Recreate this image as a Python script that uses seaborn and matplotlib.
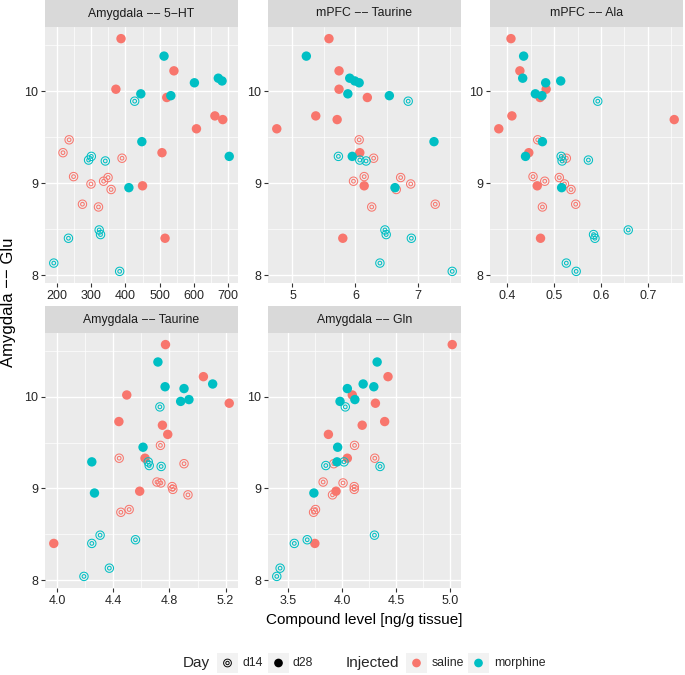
import numpy as np
import pandas as pd
import matplotlib
matplotlib.use("Agg")
import matplotlib.pyplot as plt
import seaborn as sns
from matplotlib.path import Path
from matplotlib.markers import MarkerStyle
from matplotlib.ticker import MultipleLocator
from matplotlib.patches import Rectangle

# ---------------- data (one row per animal) ----------------
injected = ["saline"] * 10 + ["morphine"] * 9 + ["saline"] * 10 + ["morphine"] * 9
day = ["d28"] * 19 + ["d14"] * 19

glu = [10.57, 10.22, 10.02, 9.93, 9.73, 9.69, 9.59, 9.33, 8.97, 8.40,
       10.38, 10.14, 10.11, 10.09, 9.97, 9.95, 9.45, 9.29, 8.95,
       9.47, 9.33, 9.27, 9.07, 9.06, 9.02, 8.99, 8.93, 8.77, 8.74,
       9.89, 9.29, 9.25, 9.24, 8.49, 8.44, 8.40, 8.13, 8.04]

amy_5ht = [387, 542, 372, 521, 662, 685, 608, 507, 450, 516,
           513, 672, 683, 602, 445, 533, 448, 704, 410,
           235, 217, 390, 248, 349, 336, 299, 358, 274, 321,
           427, 300, 292, 341, 323, 327, 233, 190, 383]

mpfc_taurine = [5.58, 5.74, 5.74, 6.19, 5.37, 5.71, 4.75, 6.07, 6.14, 5.80,
                5.22, 5.91, 5.99, 6.06, 5.88, 6.54, 7.25, 5.95, 6.63,
                6.06, np.nan, 6.29, 6.14, 6.72, 5.97, 6.88, 6.65, 7.27, 6.26,
                6.84, 5.73, 6.07, 6.17, 6.47, 6.49, 6.89, 6.39, 7.54]

mpfc_ala = [0.408, 0.427, 0.483, 0.470, 0.410, 0.756, 0.382, 0.446, 0.464, 0.471,
            0.435, 0.433, 0.514, 0.482, 0.460, 0.474, 0.475, 0.439, 0.516,
            0.465, np.nan, 0.526, 0.455, 0.511, 0.480, 0.522, 0.536, 0.546, 0.475,
            0.593, 0.515, 0.573, 0.517, 0.658, 0.584, 0.587, 0.526, 0.547]

amy_taurine = [4.772, 5.042, 4.496, 5.226, 4.440, 4.750, 4.788, 4.626, 4.588, 3.976,
               4.718, 5.108, 4.769, 4.904, 4.939, 4.880, 4.612, 4.247, 4.266,
               4.736, 4.442, 4.904, 4.711, 4.739, 4.819, 4.824, 4.932, 4.513, 4.454,
               4.732, 4.649, 4.656, 4.741, 4.306, 4.558, 4.247, 4.372, 4.191]

amy_gln = [5.023, 4.426, 4.094, 4.309, 4.395, 4.186, 3.872, 4.048, 3.943, 3.746,
           4.325, 4.195, 4.294, 4.048, 4.118, 3.980, 3.958, 3.952, 3.737,
           4.115, 4.303, 3.922, 3.823, 4.008, 4.112, 4.112, 3.910, 3.752, 3.734,
           4.029, 4.017, 3.848, 4.352, 4.300, 3.675, 3.555, 3.423, 3.392]

panel_titles = ["Amygdala \u2212\u2212 5\u2212HT", "mPFC \u2212\u2212 Taurine",
                "mPFC \u2212\u2212 Ala", "Amygdala \u2212\u2212 Taurine",
                "Amygdala \u2212\u2212 Gln"]
panel_values = [amy_5ht, mpfc_taurine, mpfc_ala, amy_taurine, amy_gln]

x_ticks = [[200, 300, 400, 500, 600, 700], [5, 6, 7], [0.4, 0.5, 0.6, 0.7],
           [4.0, 4.4, 4.8, 5.2], [3.5, 4.0, 4.5, 5.0]]
x_tick_labels = [["200", "300", "400", "500", "600", "700"], ["5", "6", "7"],
                 ["0.4", "0.5", "0.6", "0.7"], ["4.0", "4.4", "4.8", "5.2"],
                 ["3.5", "4.0", "4.5", "5.0"]]
y_ticks = [8, 9, 10]
y_tick_labels = ["8", "9", "10"]

injected_levels = ["saline", "morphine"]
day_levels = ["d14", "d28"]
palette = {"saline": "#F8766D", "morphine": "#00BFC4"}

# ---------------- style ----------------
sns.set_theme(style="white")
plt.rcParams["font.family"] = ["Liberation Sans", "DejaVu Sans"]

W, H = 685, 675
fig = plt.figure(figsize=(W / 100, H / 100), dpi=100)


def rect(x0, top, w, h):
    return [x0 / W, 1 - (top + h) / H, w / W, h / H]


def ring_marker():
    verts, codes = [], []
    for r, rev in [(1.0, False), (0.78, True), (0.50, False), (0.28, True)]:
        t = np.linspace(0, 2 * np.pi, 72, endpoint=False)
        if rev:
            t = t[::-1]
        v = np.column_stack([r * np.cos(t), r * np.sin(t)])
        verts.append(np.vstack([v, v[:1]]))
        codes += [Path.MOVETO] + [Path.LINETO] * (len(t) - 1) + [Path.CLOSEPOLY]
    return MarkerStyle(Path(np.vstack(verts), codes))


RING = ring_marker()
PT_SIZE = 46
day_marker = {"d14": RING, "d28": "o"}

df = pd.DataFrame({"Injected": injected, "Day": day, "Glu": glu})

col_x = [45, 268, 490]
pw = 193
rows = [(0, 27, 256), (306, 333, 255)]
positions = [(0, 0), (0, 1), (0, 2), (1, 0), (1, 1)]

glu_arr = np.array(glu)
yr = glu_arr.max() - glu_arr.min()
ylim = (glu_arr.min() - 0.05 * yr, glu_arr.max() + 0.05 * yr)

for i, (title, vals) in enumerate(zip(panel_titles, panel_values)):
    r, c = positions[i]
    strip_top, plot_top, ph = rows[r]
    ax = fig.add_axes(rect(col_x[c], plot_top, pw, ph))
    sax = fig.add_axes(rect(col_x[c], strip_top, pw, plot_top - strip_top))
    sax.set_facecolor("#D9D9D9")
    sax.set_xticks([]); sax.set_yticks([])
    for s in sax.spines.values():
        s.set_visible(False)
    sax.text(0.5, 0.5, title, ha="center", va="center", fontsize=8.8,
             color="#1A1A1A", transform=sax.transAxes)

    d = df.copy()
    d["x"] = vals
    d = d.dropna()
    for inj in injected_levels:
        for dy in ["d28", "d14"]:
            sub = d[(d["Injected"] == inj) & (d["Day"] == dy)]
            sns.scatterplot(data=sub, x="x", y="Glu", hue="Injected",
                            palette=palette, hue_order=injected_levels,
                            marker=day_marker[dy], s=PT_SIZE, linewidth=0,
                            edgecolor="none", legend=False, ax=ax, zorder=3)

    xv = np.array(vals, dtype=float)
    xv = xv[~np.isnan(xv)]
    xr = xv.max() - xv.min()
    ax.set_xlim(xv.min() - 0.05 * xr, xv.max() + 0.05 * xr)
    ax.set_ylim(*ylim)
    ax.set_facecolor("#EBEBEB")
    for s in ax.spines.values():
        s.set_visible(False)
    ax.set_xticks(x_ticks[i], x_tick_labels[i])
    step = x_ticks[i][1] - x_ticks[i][0]
    ax.xaxis.set_minor_locator(MultipleLocator(step / 2))
    ax.set_yticks(y_ticks, y_tick_labels)
    ax.yaxis.set_minor_locator(MultipleLocator(0.5))
    ax.grid(which="major", color="white", lw=1.0)
    ax.grid(which="minor", color="white", lw=0.5)
    ax.set_axisbelow(True)
    ax.tick_params(which="major", length=2.75, width=0.8, color="#333333",
                   labelsize=9, labelcolor="#262626", pad=2,
                   bottom=True, left=True)
    ax.tick_params(which="minor", length=0)
    ax.set_xlabel("")
    ax.set_ylabel("")

fig.text(9 / W, 1 - 302 / H, "Amygdala \u2212\u2212 Glu", rotation=90,
         ha="center", va="center", fontsize=12, color="black")
fig.text(364 / W, 1 - 620 / H, "Compound level [ng/g tissue]", ha="center",
         va="center", fontsize=11, color="black")

# ---------------- legend ----------------
lax = fig.add_axes([0, 0, 1, 40 / H])
yc = 663
key_x = [217, 268, 406, 468]
for kx in key_x:
    lax.add_patch(Rectangle((kx, yc - 10), 21, 20, facecolor="#F2F2F2",
                            edgecolor="none"))
leg_df = pd.DataFrame({"kx": [key_x[0] + 10.5, key_x[1] + 10.5],
                       "ky": [yc, yc], "Day": day_levels})
for j, dy in enumerate(day_levels):
    sns.scatterplot(data=leg_df.iloc[[j]], x="kx", y="ky", color="black",
                    marker=day_marker[dy], s=PT_SIZE * 0.85, linewidth=0,
                    edgecolor="none", legend=False, ax=lax)
leg2 = pd.DataFrame({"kx": [key_x[2] + 10.5, key_x[3] + 10.5], "ky": [yc, yc],
                     "Injected": injected_levels})
sns.scatterplot(data=leg2, x="kx", y="ky", hue="Injected", palette=palette,
                hue_order=injected_levels, marker="o", s=PT_SIZE * 0.85,
                linewidth=0, edgecolor="none", legend=False, ax=lax)
lax.set_xlim(0, W)
lax.set_ylim(H, H - 40)
lax.set_axis_off()
lax.text(183, yc, "Day", ha="left", va="center", fontsize=11)
lax.text(346, yc, "Injected", ha="left", va="center", fontsize=11)
lax.text(243, yc, "d14", ha="left", va="center", fontsize=8.8)
lax.text(293, yc, "d28", ha="left", va="center", fontsize=8.8)
lax.text(432, yc, "saline", ha="left", va="center", fontsize=8.8)
lax.text(494, yc, "morphine", ha="left", va="center", fontsize=8.8)

fig.savefig("out.png", dpi=100)
